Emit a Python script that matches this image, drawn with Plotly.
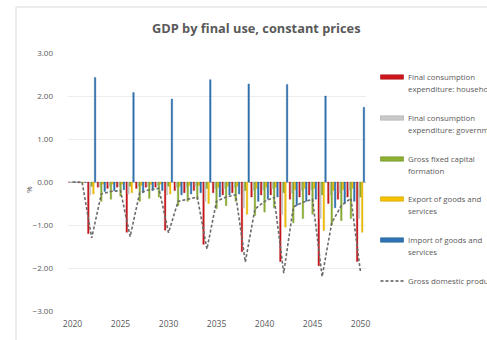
import plotly.graph_objects as go

years = list(range(2020, 2051))

household = [0.00, -0.02, -1.20, -0.12, -0.15, -0.12, -1.17, -0.15, -0.12, -0.12,
             -1.12, -0.20, -0.25, -0.20, -1.45, -0.25, -0.30, -0.25, -1.62, -0.35,
             -0.30, -0.30, -1.85, -0.40, -0.35, -0.30, -1.95, -0.50, -0.40, -0.35, -1.85]
government = [0.00, -0.02, -0.30, -0.10, -0.10, -0.10, -0.28, -0.10, -0.10, -0.08,
              -0.30, -0.12, -0.12, -0.10, -0.45, -0.15, -0.15, -0.12, -0.60, -0.20,
              -0.18, -0.15, -0.75, -0.25, -0.20, -0.18, -0.85, -0.30, -0.25, -0.20, -0.85]
gfcf = [0.00, -0.02, -0.10, -0.45, -0.40, -0.33, -0.10, -0.45, -0.38, -0.35,
        -0.10, -0.55, -0.45, -0.40, -0.15, -0.62, -0.55, -0.45, -0.20, -0.78,
        -0.70, -0.60, -0.25, -0.95, -0.85, -0.75, -0.30, -1.00, -0.90, -0.85, -0.35]
exports = [0.00, -0.01, -0.28, -0.05, -0.05, -0.05, -0.25, -0.08, -0.06, -0.05,
           -0.28, -0.10, -0.08, -0.08, -0.50, -0.12, -0.10, -0.10, -0.75, -0.15,
           -0.12, -0.12, -1.05, -0.18, -0.15, -0.15, -1.13, -0.20, -0.18, -0.15, -1.17]
imports = [0.00, -0.01, 2.43, -0.22, -0.20, -0.18, 2.08, -0.25, -0.20, -0.20,
           1.93, -0.30, -0.28, -0.25, 2.38, -0.35, -0.30, -0.28, 2.28, -0.45,
           -0.40, -0.35, 2.27, -0.55, -0.45, -0.40, 2.00, -0.60, -0.50, -0.45, 1.74]
gdp = [0.00, 0.00, -1.30, -0.28, -0.22, -0.20, -1.27, -0.25, -0.18, -0.15,
       -1.18, -0.45, -0.40, -0.35, -1.56, -0.45, -0.35, -0.30, -1.86, -0.63,
       -0.45, -0.36, -2.12, -0.58, -0.47, -0.40, -2.20, -0.95, -0.55, -0.38, -2.10]

bar_names = ["Final consumption expenditure: households",
             "Final consumption expenditure: government",
             "Gross fixed capital formation",
             "Export of goods and services",
             "Import of goods and services"]
legend_lines = [["Final consumption", "expenditure: households"],
                ["Final consumption", "expenditure: government"],
                ["Gross fixed capital", "formation"],
                ["Export of goods and", "services"],
                ["Import of goods and", "services"]]
gdp_name = "Gross domestic product"
bar_values = [household, government, gfcf, exports, imports]
colors = ["#D0161B", "#C9C9C9", "#8CB030", "#F7C200", "#2F74B5"]
edges = ["#A01015", "#A8A8A8", "#6E8C22", "#C99D00", "#225A8E"]

tick_years = [2020, 2025, 2030, 2035, 2040, 2045, 2050]

# plot area geometry (pixels)
L, R, T, B = 68, 366, 53, 311
W, H = 487, 340

def px(x):
    return (x - L) / (R - L)

def py(y):
    return (B - y) / (B - T)

fig = go.Figure()
for name, vals, c, e in zip(bar_names, bar_values, colors, edges):
    fig.add_trace(go.Bar(x=years, y=vals, name=name, marker=dict(color=c, line=dict(color=e, width=0.3)),
                         showlegend=False))
fig.add_trace(go.Scatter(x=years, y=gdp, name=gdp_name, mode="lines",
                         line=dict(color="#6B6B6B", width=1.6, dash="3px,2px"), showlegend=False))

shapes = []
annotations = []
# outer chart border
shapes.append(dict(type="rect", xref="paper", yref="paper", x0=px(16), x1=px(520), y0=py(7), y1=py(360),
                   line=dict(color="#D9D9D9", width=1), fillcolor="rgba(0,0,0,0)", layer="below"))

txt_color = "#595959"
leg_font = dict(family="Open Sans", size=7.8, color=txt_color)
row_y = [77, 118, 159, 199, 240]
for i, (lines, c, e) in enumerate(zip(legend_lines, colors, edges)):
    y0 = row_y[i]
    shapes.append(dict(type="rect", xref="paper", yref="paper", x0=px(380.5), x1=px(403.5),
                       y0=py(y0 + 2.2), y1=py(y0 - 2.2), fillcolor=c, line=dict(color=e, width=0.6)))
    for j, t in enumerate(lines):
        annotations.append(dict(xref="paper", yref="paper", x=px(405.5), y=py(y0 + 12 * j), text=t,
                                showarrow=False, xanchor="left", yanchor="middle", font=leg_font))
shapes.append(dict(type="line", xref="paper", yref="paper", x0=px(380.5), x1=px(403.5),
                   y0=py(281), y1=py(281), line=dict(color="#595959", width=1.3, dash="3px,2px")))
annotations.append(dict(xref="paper", yref="paper", x=px(405.5), y=py(281), text=gdp_name,
                        showarrow=False, xanchor="left", yanchor="middle", font=leg_font))
# title
annotations.append(dict(xref="paper", yref="paper", x=px(256), y=py(28), text="<b>GDP by final use, constant prices</b>",
                        showarrow=False, xanchor="center", yanchor="middle",
                        font=dict(family="Open Sans", size=12.8, color="#595959")))
# y axis title
annotations.append(dict(xref="paper", yref="paper", x=px(28), y=py(190), text="%", textangle=-90,
                        showarrow=False, xanchor="center", yanchor="middle",
                        font=dict(family="Open Sans", size=8, color=txt_color)))

fig.update_layout(
    width=W, height=H,
    margin=dict(l=L, r=W - R, t=T, b=H - B, pad=0),
    paper_bgcolor="white", plot_bgcolor="white",
    barmode="group", bargap=0.12, bargroupgap=0.06,
    shapes=shapes, annotations=annotations,
    showlegend=False,
)
fig.update_xaxes(range=[2019.53, 2050.57], tickvals=tick_years, ticktext=[str(t) for t in tick_years],
                 showgrid=False, zeroline=False, showline=False, ticks="",
                 tickfont=dict(family="Open Sans", size=8.5, color=txt_color), ticklabelstandoff=6)
fig.update_yaxes(range=[-3, 3], dtick=1, tickformat=".2f", showgrid=True, gridcolor="#EDEDED", gridwidth=1,
                 zeroline=True, zerolinecolor="#BFBFBF", zerolinewidth=1, showline=False, ticks="",
                 tickfont=dict(family="Open Sans", size=8, color=txt_color), ticklabelstandoff=14)

fig.write_html("out.html")
